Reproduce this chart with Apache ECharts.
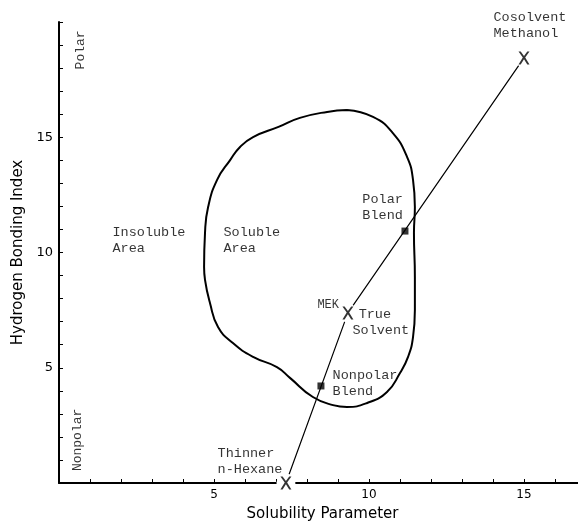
<!DOCTYPE html>
<html>
<head>
<meta charset="utf-8">
<script src="https://cdn.jsdelivr.net/npm/echarts@6/dist/echarts.min.js"></script>
<style>html,body{margin:0;padding:0;background:#fff;}#c{width:578px;height:529px;}</style>
</head>
<body>
<div id="c"></div>
<script>
// Solubility region boundary (solubility parameter, hydrogen bonding index)
const boundary = [
  [9.29,16.18],[8.65,16.10],[7.77,15.84],[7.10,15.46],[6.26,15.01],[5.84,14.58],
  [5.52,14.01],[5.10,13.15],[4.81,11.97],[4.71,10.85],[4.68,9.37],[4.71,8.81],
  [4.87,7.81],[5.13,6.77],[5.61,6.07],[6.26,5.47],[7.03,5.03],[7.45,4.56],
  [8.19,3.73],[8.84,3.38],[9.29,3.30],[9.94,3.47],[10.58,3.95],[11.00,4.77],
  [11.26,5.47],[11.42,6.33],[11.48,7.51],[11.48,8.94],[11.45,10.85],[11.48,11.97],
  [11.42,13.15],[11.23,14.14],[10.77,15.18],[10.13,15.88],[9.29,16.18]
];
// Solvents: thinner n-hexane, MEK true solvent, cosolvent methanol
const solventNames = ['n-Hexane', 'MEK', 'Methanol'];
const solventPoints = [[7.32,0.0],[9.32,7.38],[15.0,18.44]];
// Blends: nonpolar, polar
const blendNames = ['Nonpolar Blend', 'Polar Blend'];
const blendPoints = [[8.45,4.21],[11.16,10.93]];
// Text annotations (anchored in data coordinates)
const noteTexts = ['Insoluble\nArea','Soluble\nArea','Polar\nBlend','Cosolvent\nMethanol','True','Solvent','Nonpolar\nBlend','Thinner\nn-Hexane'];
const notePoints = [[1.71,10.54],[5.29,10.54],[9.77,11.97],[14.0,19.83],[9.65,7.33],[9.45,6.64],[8.81,4.34],[5.10,0.95]];
const mekText = 'MEK';
const mekPoint = [8.32,7.72];
const sideTexts = ['Polar','Nonpolar'];
const sidePoints = [[0.71,18.79],[0.61,1.87]];
const xLabelValues = [5,10,15];
const yLabelValues = [5,10,15];

const xPath = 'path://M0,0 L2,0 L5,4.2 L8,0 L10,0 L6.1,5.6 L10,12 L8,12 L5,7.2 L2,12 L0,12 L3.9,5.6 Z';
const monoFont = 'Liberation Mono';

const chart = echarts.init(document.getElementById('c'));
chart.setOption({
  animation: false,
  backgroundColor: '#ffffff',
  grid: {left: 59, right: -8, top: 22, bottom: 46, outerBoundsMode: 'none', containLabel: false},
  xAxis: {
    type: 'value', min: 0, max: 17, interval: 1,
    name: 'Solubility Parameter', nameLocation: 'middle', nameGap: 24,
    nameTextStyle: {fontFamily: 'DejaVu Sans', fontSize: 15, color: '#000'},
    axisLine: {lineStyle: {color: '#000', width: 2}},
    axisTick: {inside: true, length: 4, lineStyle: {color: '#000', width: 1}},
    axisLabel: {margin: 6, fontFamily: 'DejaVu Sans', fontSize: 12, color: '#000',
      formatter: v => xLabelValues.indexOf(v) >= 0 ? String(v) : ''},
    splitLine: {show: false}
  },
  yAxis: {
    type: 'value', min: 0, max: 20, interval: 1,
    name: 'Hydrogen Bonding Index', nameLocation: 'middle', nameGap: 27,
    nameTextStyle: {fontFamily: 'DejaVu Sans', fontSize: 15, color: '#000'},
    axisLine: {lineStyle: {color: '#000', width: 2}},
    axisTick: {inside: true, length: 4, lineStyle: {color: '#000', width: 1}},
    axisLabel: {margin: 6, fontFamily: 'DejaVu Sans', fontSize: 13, color: '#000',
      formatter: v => yLabelValues.indexOf(v) >= 0 ? String(v) : ''},
    splitLine: {show: false}
  },
  series: [
    {
      type: 'line', name: 'boundary', data: boundary, smooth: 0.5, showSymbol: false,
      lineStyle: {color: '#000', width: 2}, z: 2, silent: true
    },
    {
      type: 'line', name: 'mixing', data: solventPoints, showSymbol: false,
      lineStyle: {color: '#000', width: 1.2}, z: 2, silent: true
    },
    {
      type: 'scatter', name: 'halo', data: solventPoints, symbol: 'circle', symbolSize: 19,
      itemStyle: {color: '#ffffff', opacity: 1}, z: 3, silent: true
    },
    {
      type: 'scatter', name: 'solvents', data: solventPoints, symbol: xPath, symbolSize: [11,13],
      symbolKeepAspect: false, itemStyle: {color: '#000'}, z: 4, silent: true
    },
    {
      type: 'scatter', name: 'blends', data: blendPoints, symbol: 'rect', symbolSize: 7,
      itemStyle: {color: '#000'}, z: 4, silent: true
    },
    {
      type: 'scatter', name: 'notes', symbolSize: 1, itemStyle: {color: 'rgba(0,0,0,0)'}, z: 5, silent: true,
      data: notePoints.map((p, i) => ({value: p, label: {formatter: noteTexts[i]}})),
      label: {show: true, position: 'right', distance: 0, align: 'left', verticalAlign: 'middle',
        fontFamily: monoFont, fontSize: 13.5, lineHeight: 16, color: '#000'}
    },
    {
      type: 'scatter', name: 'mek', symbolSize: 1, itemStyle: {color: 'rgba(0,0,0,0)'}, z: 5, silent: true,
      data: [{value: mekPoint, label: {formatter: mekText}}],
      label: {show: true, position: 'right', distance: 0, align: 'left', verticalAlign: 'middle',
        fontFamily: monoFont, fontSize: 12, color: '#000'}
    },
    {
      type: 'scatter', name: 'sides', symbolSize: 1, itemStyle: {color: 'rgba(0,0,0,0)'}, z: 5, silent: true,
      data: sidePoints.map((p, i) => ({value: p, label: {formatter: sideTexts[i]}})),
      label: {show: true, position: 'inside', rotate: 90,
        fontFamily: monoFont, fontSize: 13, color: '#000'}
    }
  ]
});
</script>
</body>
</html>
